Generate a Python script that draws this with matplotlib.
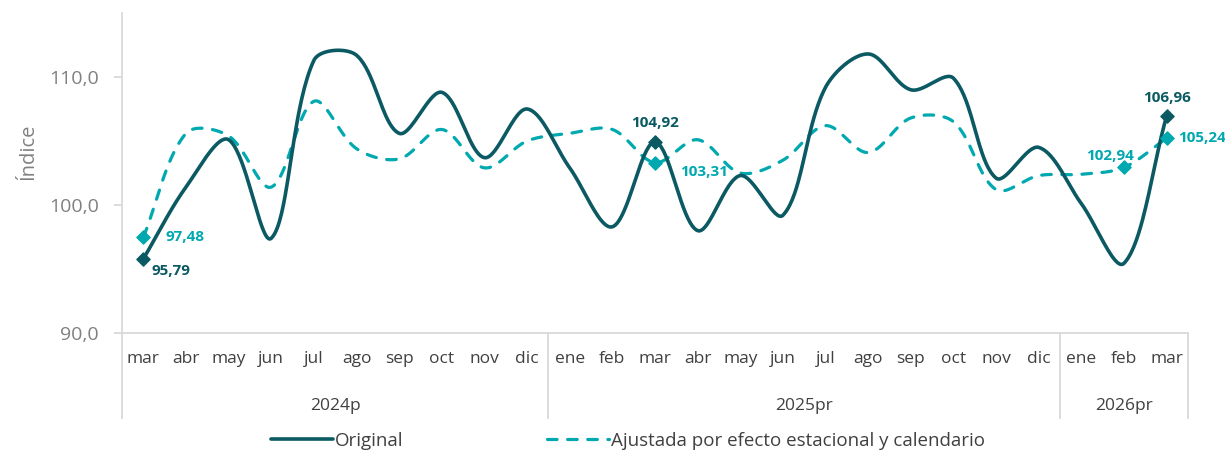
import numpy as np
import matplotlib
matplotlib.use('Agg')
from matplotlib import pyplot as plt
from matplotlib.ticker import FuncFormatter
import matplotlib.transforms as mtransforms

# data
months = ['mar', 'abr', 'may', 'jun', 'jul', 'ago', 'sep', 'oct', 'nov', 'dic',
          'ene', 'feb', 'mar', 'abr', 'may', 'jun', 'jul', 'ago', 'sep', 'oct', 'nov', 'dic',
          'ene', 'feb', 'mar']
years = ['2024p', '2025pr', '2026pr']
year_counts = [10, 12, 3]
original = [95.79, 101.4, 105.1, 97.4, 111.3, 111.7, 105.6, 108.8, 103.7, 107.5,
            102.9, 98.3, 104.92, 98.0, 102.3, 99.2, 109.2, 111.8, 109.0, 109.9, 102.1, 104.5,
            100.1, 95.45, 106.96]
ajustada = [97.48, 105.6, 105.4, 101.4, 108.1, 104.4, 103.6, 105.9, 102.9, 105.0,
            105.6, 105.9, 103.31, 105.1, 102.5, 103.5, 106.2, 104.1, 106.8, 106.5, 101.2, 102.3,
            102.4, 102.94, 105.24]
orig_marked = [0, 12, 24]
ajus_marked = [0, 12, 23, 24]

C_ORIG = '#0B5A63'
C_AJUS = '#00A8B0'
GRID = '#D9D9D9'

plt.rcParams['font.family'] = ['Open Sans', 'Noto Sans', 'DejaVu Sans']


def smooth(xs, ys, sx, sy, n=40):
    '''Excel-like smoothed line: bezier segments, tangents scaled by chord length.'''
    P = np.column_stack([np.asarray(xs, float) * sx, np.asarray(ys, float) * sy])
    out = [P[:1]]
    t = np.linspace(0, 1, n)[1:, None]
    for i in range(len(P) - 1):
        p1, p2 = P[i], P[i + 1]
        p0 = P[i - 1] if i > 0 else p1
        p3 = P[i + 2] if i + 2 < len(P) else p2
        d01 = np.linalg.norm(p1 - p0)
        d12 = np.linalg.norm(p2 - p1)
        d23 = np.linalg.norm(p3 - p2)
        c1 = p1 + (p2 - p0) * d12 / (d01 + d12) / 3
        c2 = p2 - (p3 - p1) * d12 / (d12 + d23) / 3
        seg = (1 - t)**3 * p1 + 3 * (1 - t)**2 * t * c1 + 3 * (1 - t) * t**2 * c2 + t**3 * p2
        out.append(seg)
    arr = np.vstack(out)
    return arr[:, 0] / sx, arr[:, 1] / sy


fig = plt.figure(figsize=(12.25, 4.57), dpi=100)
ax = fig.add_axes([122 / 1225, 1 - 333 / 457, 1066 / 1225, 320 / 457])
x = np.arange(len(months))
ax.set_xlim(-0.5, len(months) - 0.5)
ax.set_ylim(90, 115)

# pixel scale for the smoothing
bb = ax.get_window_extent()
sx = bb.width / (len(months))
sy = bb.height / 25.0

xs, ys = smooth(x, original, sx, sy)
l1, = ax.plot(xs, ys, color=C_ORIG, lw=2.6, solid_capstyle='round', label='Original', zorder=3)
xs, ys = smooth(x, ajustada, sx, sy)
l2, = ax.plot(xs, ys, color=C_AJUS, lw=2.3, dashes=(3.0, 3.3), dash_capstyle='round',
              label='Ajustada por efecto estacional y calendario', zorder=2)

ax.scatter(x[orig_marked], np.array(original)[orig_marked], marker='D', s=45, color=C_ORIG, zorder=4)
ax.scatter(x[ajus_marked], np.array(ajustada)[ajus_marked], marker='D', s=45, color=C_AJUS, zorder=4)

fmt = lambda v: '{:.2f}'.format(v).replace('.', ',')
lab = dict(fontsize=11, fontweight='bold', textcoords='offset points', va='center')
# original labels
o_off = {0: ((6, -9), 'left'), 12: ((0, 14), 'center'), 24: ((0, 13), 'center')}
for i in orig_marked:
    off, ha = o_off[i]
    ax.annotate(fmt(original[i]), (x[i], original[i]), xytext=off, ha=ha, color=C_ORIG, **lab)
a_off = {0: ((16, 0), 'left'), 12: ((18, -7), 'left'), 23: ((-10, 8), 'center'), 24: ((8, 0), 'left')}
for i in ajus_marked:
    off, ha = a_off[i]
    ax.annotate(fmt(ajustada[i]), (x[i], ajustada[i]), xytext=off, ha=ha, color=C_AJUS, **lab)

# axes styling
for s in ['top', 'right']:
    ax.spines[s].set_visible(False)
for s in ['left', 'bottom']:
    ax.spines[s].set_color(GRID)
    ax.spines[s].set_linewidth(1.3)
ax.set_yticks([90, 100, 110])
ax.yaxis.set_major_formatter(FuncFormatter(lambda v, p: '{:.1f}'.format(v).replace('.', ',')))
ax.tick_params(axis='y', length=5.5, width=1.3, color=GRID, labelsize=14, labelcolor='#808080', pad=11)
ax.set_ylabel('Índice', fontsize=14.5, color='#808080')
ax.yaxis.set_label_coords(-0.079, 0.565)

ax.set_xticks(x)
ax.set_xticklabels(months)
ax.tick_params(axis='x', length=0, labelsize=12.5, labelcolor='#404040', pad=13)

# year groups below the months
trans = mtransforms.blended_transform_factory(ax.transData, ax.transAxes)
bounds = np.concatenate([[0], np.cumsum(year_counts)]) - 0.5
for b in bounds:
    ax.plot([b, b], [0, -0.265], color=GRID, lw=1.3, transform=trans, clip_on=False)
for j, yr in enumerate(years):
    ax.text((bounds[j] + bounds[j + 1]) / 2, -0.228, yr, transform=trans, ha='center', va='center',
            fontsize=12.5, color='#404040')

fig.legend(handles=[l1, l2], loc='center', bbox_to_anchor=(628 / 1225, 1 - 441 / 457), ncol=2,
           frameon=False, fontsize=13.5, handlelength=3.3, handletextpad=0.1, columnspacing=7.7,
           labelcolor='#404040')

fig.savefig('out.png', dpi=100)
